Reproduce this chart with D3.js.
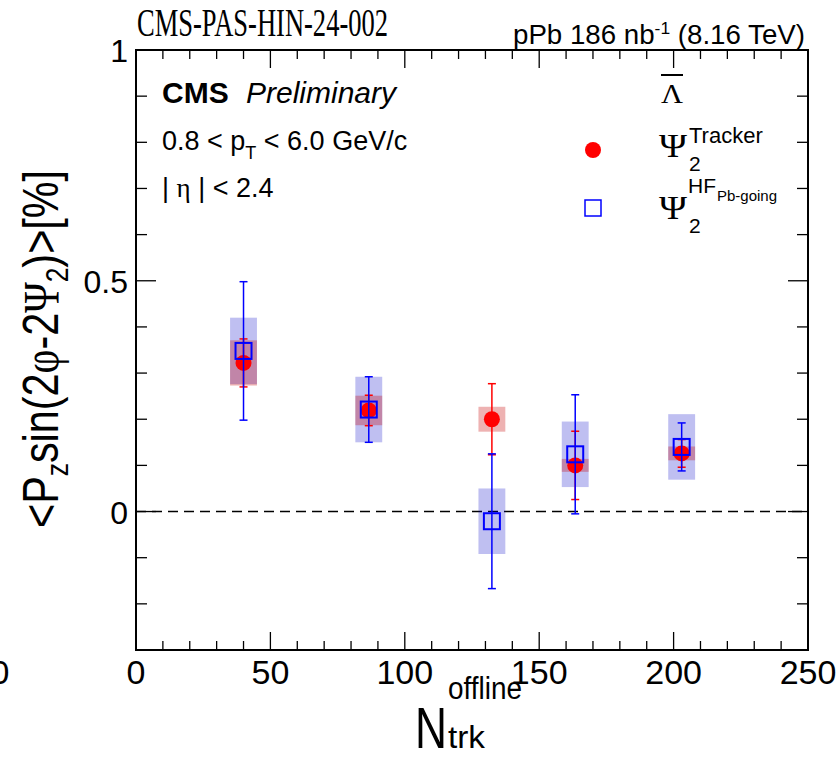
<!DOCTYPE html>
<html>
<head>
<meta charset="utf-8">
<script src="https://cdn.jsdelivr.net/npm/d3@7"></script>
<style>
  body { margin: 0; background: #fff; }
  svg { display: block; }
  text { font-family: "Liberation Sans", Arial, sans-serif; }
</style>
</head>
<body>
<div id="chart"></div>
<script>
// data
var nTrk = [40, 86.6, 132.4, 163.4, 203];
var binHalf = [5, 5, 5, 5, 5];

var trkVal = [0.322, 0.219, 0.200, 0.100, 0.126];
var trkStat = [0.052, 0.033, 0.077, 0.074, 0.030];
var trkSys = [0.049, 0.032, 0.027, 0.014, 0.015];

var hfVal = [0.348, 0.221, -0.021, 0.124, 0.140];
var hfStat = [0.150, 0.071, 0.146, 0.129, 0.052];
var hfSys = [0.072, 0.071, 0.071, 0.071, 0.071];

var xTicks = [0, 50, 100, 150, 200, 250];
var yTicks = [0, 0.5, 1];

var W = 839, H = 761;
var margin = { top: 50, right: 31, bottom: 111, left: 136 };
var width = W - margin.left - margin.right;
var height = H - margin.top - margin.bottom;

var svg = d3.select("#chart").append("svg")
  .attr("width", W).attr("height", H);

var g = svg.append("g")
  .attr("transform", "translate(" + margin.left + "," + margin.top + ")");

var x = d3.scaleLinear().domain([0, 250]).range([0, width]);
var y = d3.scaleLinear().domain([-0.3, 1]).range([height, 0]);

// ticks (ROOT style: inside, on all four sides)
var xMinor = d3.range(0, 251, 10);
var yMinor = d3.range(-3, 11).map(function(d) { return d / 10; });

function isMajor(v, step) { return Math.abs(v / step - Math.round(v / step)) < 1e-6; }

var tg = g.append("g").attr("stroke", "#000").attr("stroke-width", 1.3);
xMinor.forEach(function(v) {
  var L = isMajor(v, 50) ? 18 : 9;
  tg.append("line").attr("x1", x(v)).attr("x2", x(v)).attr("y1", height).attr("y2", height - L);
  tg.append("line").attr("x1", x(v)).attr("x2", x(v)).attr("y1", 0).attr("y2", L);
});
yMinor.forEach(function(v) {
  var L = isMajor(v, 0.5) ? 20 : 11;
  tg.append("line").attr("x1", 0).attr("x2", L).attr("y1", y(v)).attr("y2", y(v));
  tg.append("line").attr("x1", width).attr("x2", width - L).attr("y1", y(v)).attr("y2", y(v));
});

// tick labels
g.selectAll(".xlab").data(xTicks).enter().append("text")
  .attr("x", function(d) { return x(d); })
  .attr("y", height + 34)
  .attr("text-anchor", "middle")
  .style("font-size", "34px")
  .text(function(d) { return d; });

// stray label clipped at the left edge, as in the original
svg.append("text")
  .attr("x", 0).attr("y", height + margin.top + 34)
  .attr("text-anchor", "middle")
  .style("font-size", "34px")
  .text("0");

g.selectAll(".ylab").data(yTicks).enter().append("text")
  .attr("x", -8)
  .attr("y", function(d) { return y(d) + 12; })
  .attr("text-anchor", "end")
  .style("font-size", "32px")
  .text(function(d) { return d; });

// zero line
g.append("line")
  .attr("x1", 0).attr("x2", width)
  .attr("y1", y(0)).attr("y2", y(0))
  .attr("stroke", "#000").attr("stroke-width", 1.4)
  .attr("stroke-dasharray", "10,6");

// systematic boxes
function sysBoxes(vals, sys, fill, op) {
  g.append("g").selectAll("rect").data(vals).enter().append("rect")
    .attr("x", function(d, i) { return x(nTrk[i] - binHalf[i]); })
    .attr("width", function(d, i) { return x(nTrk[i] + binHalf[i]) - x(nTrk[i] - binHalf[i]); })
    .attr("y", function(d, i) { return y(d + sys[i]); })
    .attr("height", function(d, i) { return y(d - sys[i]) - y(d + sys[i]); })
    .attr("fill", fill).attr("fill-opacity", op);
}
sysBoxes(hfVal, hfSys, "#0000c8", 0.25);
sysBoxes(trkVal, trkSys, "#c80000", 0.3);

// stat error bars
function statBars(vals, stat, col) {
  var eg = g.append("g").attr("stroke", col).attr("stroke-width", 1.5);
  vals.forEach(function(d, i) {
    var cx = x(nTrk[i]);
    eg.append("line").attr("x1", cx).attr("x2", cx).attr("y1", y(d + stat[i])).attr("y2", y(d - stat[i]));
    eg.append("line").attr("x1", cx - 4).attr("x2", cx + 4).attr("y1", y(d + stat[i])).attr("y2", y(d + stat[i]));
    eg.append("line").attr("x1", cx - 4).attr("x2", cx + 4).attr("y1", y(d - stat[i])).attr("y2", y(d - stat[i]));
  });
}
statBars(trkVal, trkStat, "#ff0000");

g.append("g").selectAll("circle").data(trkVal).enter().append("circle")
  .attr("cx", function(d, i) { return x(nTrk[i]); })
  .attr("cy", function(d) { return y(d); })
  .attr("r", 8)
  .attr("fill", "#ff0000");

statBars(hfVal, hfStat, "#0000ff");

g.append("g").selectAll("rect").data(hfVal).enter().append("rect")
  .attr("x", function(d, i) { return x(nTrk[i]) - 8; })
  .attr("y", function(d) { return y(d) - 8; })
  .attr("width", 16).attr("height", 16)
  .attr("fill", "none").attr("stroke", "#0000ff").attr("stroke-width", 2);

// frame
g.append("rect")
  .attr("x", 0).attr("y", 0).attr("width", width).attr("height", height)
  .attr("fill", "none").attr("stroke", "#000").attr("stroke-width", 2);

// header texts
svg.append("text")
  .attr("x", 137).attr("y", 36)
  .attr("textLength", 251).attr("lengthAdjust", "spacingAndGlyphs")
  .style("font-family", "'Liberation Serif', 'Times New Roman', serif")
  .style("font-size", "40px")
  .text("CMS-PAS-HIN-24-002");

var lumi = svg.append("text")
  .attr("x", 513).attr("y", 44)
  .attr("textLength", 292).attr("lengthAdjust", "spacingAndGlyphs")
  .style("font-size", "27px");
lumi.append("tspan").text("pPb 186 nb");
lumi.append("tspan").attr("dy", -10).style("font-size", "17px").text("-1");
lumi.append("tspan").attr("dy", 10).text(" (8.16 TeV)");

// CMS Preliminary
svg.append("text").attr("x", 162).attr("y", 103)
  .style("font-size", "30px").style("font-weight", "bold").text("CMS");
svg.append("text").attr("x", 246).attr("y", 103)
  .style("font-size", "30px").style("font-style", "italic").text("Preliminary");

var pt = svg.append("text").attr("x", 162).attr("y", 150).style("font-size", "27px");
pt.append("tspan").text("0.8 < p");
pt.append("tspan").attr("dy", 9).style("font-size", "18px").text("T");
pt.append("tspan").attr("dy", -9).text(" < 6.0 GeV/c");

var serif = "'Liberation Serif', 'Times New Roman', serif";
var eta = svg.append("text").attr("x", 162).attr("y", 197).style("font-size", "27px");
eta.append("tspan").text("| ");
eta.append("tspan").style("font-family", serif).text("\u03b7");
eta.append("tspan").text(" | < 2.4");

// legend
svg.append("text").attr("x", 661).attr("y", 103)
  .attr("textLength", 22).attr("lengthAdjust", "spacingAndGlyphs")
  .style("font-family", serif).style("font-size", "27px").text("\u039b");
svg.append("line").attr("x1", 661).attr("x2", 683).attr("y1", 75).attr("y2", 75)
  .attr("stroke", "#000").attr("stroke-width", 2);

svg.append("circle").attr("cx", 593).attr("cy", 150).attr("r", 8).attr("fill", "#ff0000");
svg.append("text").attr("x", 659).attr("y", 157)
  .attr("textLength", 28).attr("lengthAdjust", "spacingAndGlyphs")
  .style("font-family", serif).style("font-size", "34px").text("\u03a8");
svg.append("text").attr("x", 689).attr("y", 171).style("font-size", "21px").text("2");
svg.append("text").attr("x", 689).attr("y", 143).style("font-size", "22px").text("Tracker");

svg.append("rect").attr("x", 585).attr("y", 200).attr("width", 16).attr("height", 16)
  .attr("fill", "none").attr("stroke", "#0000ff").attr("stroke-width", 1.5);
svg.append("text").attr("x", 659).attr("y", 219)
  .attr("textLength", 28).attr("lengthAdjust", "spacingAndGlyphs")
  .style("font-family", serif).style("font-size", "34px").text("\u03a8");
svg.append("text").attr("x", 689).attr("y", 233).style("font-size", "21px").text("2");
svg.append("text").attr("x", 688).attr("y", 193).style("font-size", "21px").text("HF");
svg.append("text").attr("x", 717).attr("y", 201).style("font-size", "15px").text("Pb-going");

// x axis title
var xt = svg.append("g");
xt.append("text").attr("x", 415).attr("y", 748)
  .attr("textLength", 32).attr("lengthAdjust", "spacingAndGlyphs")
  .style("font-size", "58px").text("N");
xt.append("text").attr("x", 448).attr("y", 699)
  .attr("textLength", 74).attr("lengthAdjust", "spacingAndGlyphs")
  .style("font-size", "31px").text("offline");
xt.append("text").attr("x", 448).attr("y", 748)
  .attr("textLength", 37).attr("lengthAdjust", "spacingAndGlyphs")
  .style("font-size", "31px").text("trk");

// y axis title
var yt = svg.append("text")
  .attr("transform", "translate(58,528) rotate(-90)")
  .attr("textLength", 358).attr("lengthAdjust", "spacingAndGlyphs")
  .style("font-size", "50px");
yt.append("tspan").text("<P");
yt.append("tspan").attr("dy", 10).style("font-size", "32px").text("z");
yt.append("tspan").attr("dy", -10).text("sin(2");
yt.append("tspan").style("font-family", serif).text("\u03c6");
yt.append("tspan").text("-2");
yt.append("tspan").style("font-family", serif).text("\u03a8");
yt.append("tspan").attr("dy", 10).style("font-size", "32px").text("2");
yt.append("tspan").attr("dy", -10).text(")>[%]");
</script>
</body>
</html>
